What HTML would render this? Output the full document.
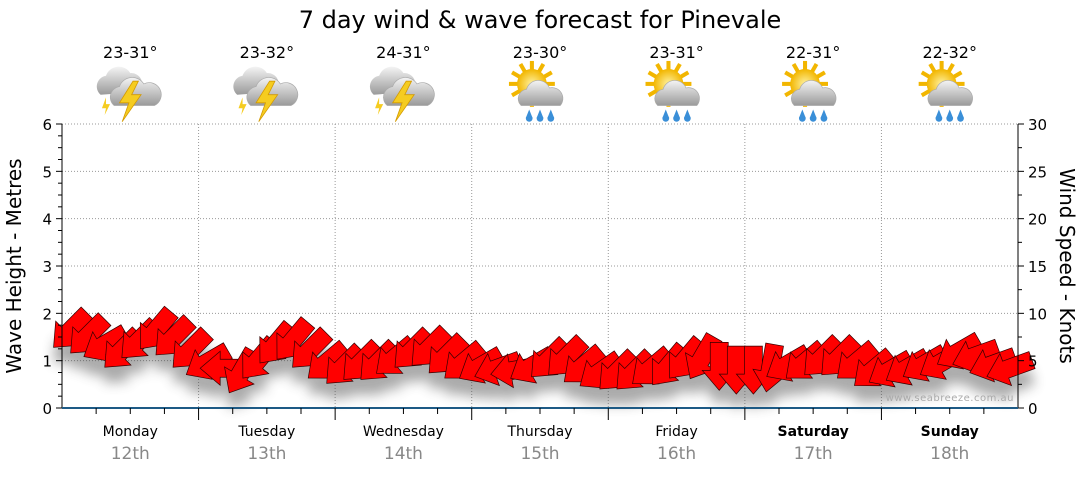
<!DOCTYPE html>
<html><head><meta charset="utf-8"><style>
body{margin:0;background:#fff;width:1080px;height:475px;overflow:hidden;font-family:"Liberation Sans",sans-serif}
</style></head><body>
<svg id="chart" width="1080" height="475" xmlns="http://www.w3.org/2000/svg" font-family="DejaVu Sans, Liberation Sans, sans-serif">
<defs>
<filter id="sh" x="-20%" y="-20%" width="140%" height="160%"><feGaussianBlur stdDeviation="6"/></filter>
<linearGradient id="cl" x1="0" y1="0" x2="0" y2="1"><stop offset="0" stop-color="#f4f4f4"/><stop offset="1" stop-color="#9a9a9a"/></linearGradient>
<radialGradient id="sun"><stop offset="0" stop-color="#fff2a0"/><stop offset="1" stop-color="#f2b600"/></radialGradient>
</defs>
<text x="540" y="28" text-anchor="middle" font-size="24" fill="#000">7 day wind &amp; wave forecast for Pinevale</text>
<g id="grid"></g><g id="icons"></g><g id="shadow" filter="url(#sh)" opacity="0.45"></g><g id="arrows"></g><g id="axes"></g>
<text transform="translate(21,266) rotate(-90)" text-anchor="middle" font-size="20">Wave Height - Metres</text>
<text transform="translate(1060,266) rotate(90)" text-anchor="middle" font-size="20">Wind Speed - Knots</text>
<text x="1014" y="401" text-anchor="end" font-size="10" fill="#aaa" letter-spacing="0.5">www.seabreeze.com.au</text>
</svg>
<script>
const days=["Monday","Tuesday","Wednesday","Thursday","Friday","Saturday","Sunday"];
const dates=["12th","13th","14th","15th","16th","17th","18th"];
const temps=["23-31°","23-32°","24-31°","23-30°","23-31°","22-31°","22-32°"];
const icons=["storm","storm","storm","sunrain","sunrain","sunrain","sunrain"];
const waveTicks=[0,1,2,3,4,5,6];
const windTicks=[0,5,10,15,20,25,30];
const windSpeed=[8.2,7.6,6.7,6.1,7.1,8.2,7.4,6.1,4.8,4.2,3.8,5.1,6.7,7.1,6.1,4.8,4.4,4.8,4.8,5.3,6.1,6.3,5.5,4.8,4.4,4.2,4.0,4.4,5.1,5.3,4.4,3.8,3.8,3.8,4.2,4.4,5.1,5.3,4.4,4.0,4.0,4.2,4.6,4.8,5.3,5.3,4.8,4.0,4.0,4.2,4.6,4.8,5.9,5.5,4.6,4.2];
const windDir=[45,45,60,45,45,40,45,45,60,90,30,40,40,40,45,50,45,45,45,50,45,45,45,50,60,70,80,60,45,45,50,55,45,45,50,40,40,30,0,0,0,10,60,50,45,45,50,50,60,60,60,60,60,70,70,70];
const svg=document.getElementById('chart');
const NS="http://www.w3.org/2000/svg";
const X0=62,X1=1018,Y0=408,Y1=124;
const dayW=(X1-X0)/7;
const yWave=v=>Y0-(v/6)*(Y0-Y1);
const yWind=v=>Y0-(v/30)*(Y0-Y1);
const xIdx=i=>X0+(i+0.5)*(X1-X0)/windSpeed.length;
function mk(tag,attrs,parent){const e=document.createElementNS(NS,tag);for(const k in attrs)e.setAttribute(k,attrs[k]);parent.appendChild(e);return e;}
const grid=document.getElementById('grid'),axes=document.getElementById('axes'),ic=document.getElementById('icons');
waveTicks.forEach(v=>{
 if(v>0){const l=mk('line',{x1:X0,x2:X1,y1:yWave(v),y2:yWave(v),stroke:'#999','stroke-dasharray':'1,2'},grid);
 
 }
 const t=mk('text',{x:X0-10,y:yWave(v)+6,'text-anchor':'end','font-size':15},axes);t.textContent=v;
 
 
});
for(let v=0;v<=6;v+=0.25){mk('line',{x1:X0-(v%1?4:6),x2:X0,y1:yWave(v),y2:yWave(v),stroke:'#000'},axes);}
windTicks.forEach(v=>{
 const t=mk('text',{x:X1+10,y:yWind(v)+6,'font-size':15},axes);t.textContent=v;
 
 
});
for(let v=0;v<=30;v+=2.5){mk('line',{x1:X1,x2:X1+(v%5?4:6),y1:yWind(v),y2:yWind(v),stroke:'#000'},axes);}
mk('line',{x1:X0,x2:X0,y1:Y1,y2:Y0,stroke:'#000'},axes);
mk('line',{x1:X1,x2:X1,y1:Y1,y2:Y0,stroke:'#000'},axes);
mk('line',{x1:X0,x2:X1,y1:Y0,y2:Y0,stroke:'#1d5a85','stroke-width':2},axes);
days.forEach((d,i)=>{
 const xs=X0+i*dayW,xc=xs+dayW/2;
 if(i>0){const g=mk('line',{x1:xs,x2:xs,y1:Y1,y2:Y0,stroke:'#999','stroke-dasharray':'1,2'},grid);
 
 
 mk('line',{x1:xs,x2:xs,y1:Y0,y2:Y0+12,stroke:'#000'},axes);}
 for(let q=1;q<4;q++)mk('line',{x1:xs+q*dayW/4,x2:xs+q*dayW/4,y1:Y0,y2:Y0+6,stroke:'#000'},axes);
 const dn=mk('text',{x:xc,y:436,'text-anchor':'middle','font-size':14,'font-weight':i>=5?'bold':'normal'},axes);dn.textContent=d;
 
 
 const dt=mk('text',{x:xc,y:459,'text-anchor':'middle','font-size':17,fill:'#888'},axes);dt.textContent=dates[i];
 
 
 const tt=mk('text',{x:xc,y:58,'text-anchor':'middle','font-size':16},ic);tt.textContent=temps[i];
 
 
 const g=mk('g',{transform:`translate(${xc},92) scale(1.35)`},ic);
 
 
 if(icons[i]=='storm'){
  mk('path',{d:'M-22,2 a8,8 0 0 1 4,-14 a10,10 0 0 1 18,-2 a8,8 0 0 1 6,14 z',fill:'url(#cl)'},g);
  mk('path',{d:'M-12,10 a8,8 0 0 1 4,-14 a10,10 0 0 1 18,-2 a8,8 0 0 1 8,16 z',fill:'url(#cl)',stroke:'#aaa','stroke-width':0.5},g);
  mk('path',{d:'M2,-8 L-8,8 L-1,8 L-6,22 L8,2 L1,2 L6,-8 z',fill:'#f5cc20',stroke:'#d49a00','stroke-width':0.6},g);
  mk('path',{d:'M-18,4 l-3,8 l3,0 l-1,5 l4,-8 l-3,0 z',fill:'#f5cc20'},g);
 }else{
  for(let a=0;a<12;a++){const r=a*30*Math.PI/180;mk('line',{x1:-6+Math.cos(r)*10,y1:-6+Math.sin(r)*10,x2:-6+Math.cos(r)*17,y2:-6+Math.sin(r)*17,stroke:'#f2b600','stroke-width':3},g);}
  mk('circle',{cx:-6,cy:-6,r:11,fill:'url(#sun)'},g);
  mk('path',{d:'M-14,10 a7,7 0 0 1 4,-12 a9,9 0 0 1 17,-1 a8,8 0 0 1 8,13 z',fill:'url(#cl)',stroke:'#aaa','stroke-width':0.5},g);
  [-8,0,8].forEach(dx=>mk('path',{d:`M${dx},13 l-2,5 a2.5,2.5 0 1 0 4,0 z`,fill:'#3a8fd8'},g));
 }
});
const arrows=document.getElementById('arrows'),shadow=document.getElementById('shadow');
const shape='M-24,-9 L4,-9 L4,-17 L24,0 L4,17 L4,9 L-24,9 z';
windSpeed.forEach((s,i)=>{
 const x=xIdx(i),y=yWind(s),rot=windDir[i]+90;
 mk('path',{d:shape,transform:`translate(${x},${y+16}) rotate(${rot})`,fill:'#444'},shadow);
 const a=mk('path',{d:shape,transform:`translate(${x},${y}) rotate(${rot})`,fill:'#ff0000',stroke:'#300','stroke-width':0.7},arrows);
 
 
});
</script>
</body></html>
